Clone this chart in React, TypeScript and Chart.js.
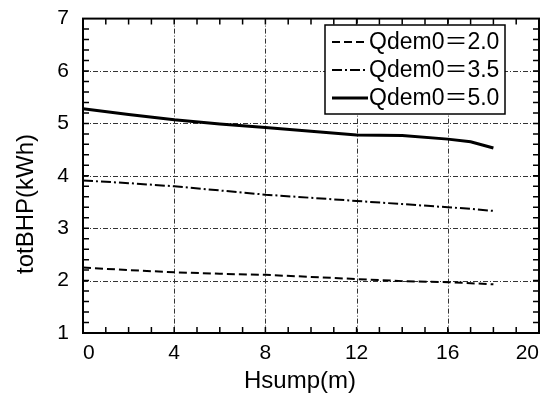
import React, { useEffect, useRef } from "react";
import { Chart, registerables } from "chart.js";

Chart.register(...registerables);

const hsump = [0, 2, 4, 6, 8, 10, 12, 14, 16, 17, 18];
const q20 = [2.25, 2.2, 2.16, 2.13, 2.11, 2.07, 2.03, 1.99, 1.97, 1.95, 1.93];
const q35 = [3.91, 3.86, 3.8, 3.72, 3.64, 3.58, 3.52, 3.46, 3.4, 3.37, 3.33];
const q50 = [5.28, 5.17, 5.07, 4.99, 4.92, 4.85, 4.78, 4.77, 4.7, 4.65, 4.53];
const seriesLabels = ["Qdem0＝2.0", "Qdem0＝3.5", "Qdem0＝5.0"];
const xTicks = [0, 4, 8, 12, 16, 20];
const yTicks = [1, 2, 3, 4, 5, 6, 7];
const xTitle = "Hsump(m)";
const yTitle = "totBHP(kWh)";

const FONT = "'Liberation Sans', Arial, 'Noto Sans CJK JP', sans-serif";

const framePlugin = {
  id: "frame",
  beforeDatasetsDraw(chart: any) {
    const { ctx, chartArea: a } = chart;
    const xs = chart.scales.x;
    const ys = chart.scales.y;
    ctx.save();
    // grid lines
    ctx.strokeStyle = "#333";
    ctx.lineWidth = 1;
    ctx.setLineDash([5, 2, 1, 2]);
    for (const v of xTicks.slice(1, -1)) {
      const px = Math.round(xs.getPixelForValue(v)) + 0.5;
      ctx.beginPath();
      ctx.moveTo(px, a.top);
      ctx.lineTo(px, a.bottom);
      ctx.stroke();
    }
    for (const v of yTicks.slice(1, -1)) {
      const py = Math.round(ys.getPixelForValue(v)) + 0.5;
      ctx.beginPath();
      ctx.moveTo(a.left, py);
      ctx.lineTo(a.right, py);
      ctx.stroke();
    }
    ctx.setLineDash([]);
    // minor ticks
    ctx.lineWidth = 1.5;
    ctx.strokeStyle = "#000";
    const tl = 6;
    for (let v = 1; v < 20; v++) {
      const px = xs.getPixelForValue(v);
      ctx.beginPath();
      ctx.moveTo(px, a.bottom);
      ctx.lineTo(px, a.bottom - tl);
      ctx.moveTo(px, a.top);
      ctx.lineTo(px, a.top + tl);
      ctx.stroke();
    }
    for (let i = 1; i < 30; i++) {
      const v = 1 + i * 0.2;
      const py = ys.getPixelForValue(v);
      ctx.beginPath();
      ctx.moveTo(a.left, py);
      ctx.lineTo(a.left + tl, py);
      ctx.moveTo(a.right, py);
      ctx.lineTo(a.right - tl, py);
      ctx.stroke();
    }
    // frame
    ctx.lineWidth = 2;
    ctx.strokeRect(a.left, a.top, a.right - a.left, a.bottom - a.top);
    ctx.restore();
  },
  afterDatasetsDraw(chart: any) {
    const { ctx } = chart;
    const bx = 325;
    const by = 25;
    const bw = 180;
    const bh = 89;
    ctx.save();
    ctx.fillStyle = "#fff";
    ctx.fillRect(bx, by, bw, bh);
    ctx.strokeStyle = "#000";
    ctx.lineWidth = 1.5;
    ctx.strokeRect(bx, by, bw, bh);
    ctx.font = `23px ${FONT}`;
    ctx.fillStyle = "#000";
    ctx.textBaseline = "middle";
    chart.data.datasets.forEach((ds: any, i: number) => {
      const y = by + 17 + i * 28;
      ctx.setLineDash(ds.borderDash || []);
      ctx.lineWidth = ds.borderWidth;
      ctx.beginPath();
      ctx.moveTo(bx + 7, y);
      ctx.lineTo(bx + 43, y);
      ctx.stroke();
      ctx.setLineDash([]);
      ctx.fillText(ds.label, bx + 44, y + 1);
    });
    // axis titles
    ctx.font = `24px ${FONT}`;
    ctx.textAlign = "center";
    ctx.textBaseline = "middle";
    ctx.fillText(xTitle, 300, 381);
    ctx.translate(26, 204);
    ctx.rotate(-Math.PI / 2);
    ctx.fillText(yTitle, 0, 0);
    ctx.restore();
  },
};

export default function App() {
  const ref = useRef<HTMLCanvasElement>(null);
  useEffect(() => {
    if (!ref.current) return;
    const mk = (vals: number[]) => hsump.map((x, i) => ({ x, y: vals[i] }));
    const chart = new Chart(ref.current, {
      type: "line",
      data: {
        datasets: [
          { label: seriesLabels[0], data: mk(q20), borderColor: "#000", borderWidth: 2, borderDash: [8, 4], pointRadius: 0 },
          { label: seriesLabels[1], data: mk(q35), borderColor: "#000", borderWidth: 2, borderDash: [10, 3, 2, 3], pointRadius: 0 },
          { label: seriesLabels[2], data: mk(q50), borderColor: "#000", borderWidth: 3, borderDash: [], pointRadius: 0 },
        ],
      },
      options: {
        animation: false,
        responsive: false,
        layout: { padding: { left: 0, top: 13, right: 12, bottom: 0 } },
        plugins: { legend: { display: false }, tooltip: { enabled: false } },
        scales: {
          x: {
            type: "linear",
            min: 0,
            max: 20,
            afterBuildTicks: (s: any) => { s.ticks = xTicks.map((v) => ({ value: v })); },
            ticks: { font: { family: FONT, size: 21 }, color: "#000", padding: 0, maxRotation: 0, align: "inner" },
            grid: { display: false },
            border: { display: false },
            afterFit: (s: any) => { s.height = 64; },
          },
          y: {
            type: "linear",
            min: 1,
            max: 7,
            afterBuildTicks: (s: any) => { s.ticks = yTicks.map((v) => ({ value: v })); },
            ticks: { font: { family: FONT, size: 21 }, color: "#000", padding: 6 },
            grid: { display: false },
            border: { display: false },
            afterFit: (s: any) => { s.width = 83; },
          },
        },
      },
      plugins: [framePlugin],
    } as any);
    return () => chart.destroy();
  }, []);
  return (
    <div style={{ position: "fixed", left: 0, top: 0, width: 551, height: 397, background: "#fff" }}>
      <canvas ref={ref} width={551} height={397} style={{ width: 551, height: 397 }} />
    </div>
  );
}
